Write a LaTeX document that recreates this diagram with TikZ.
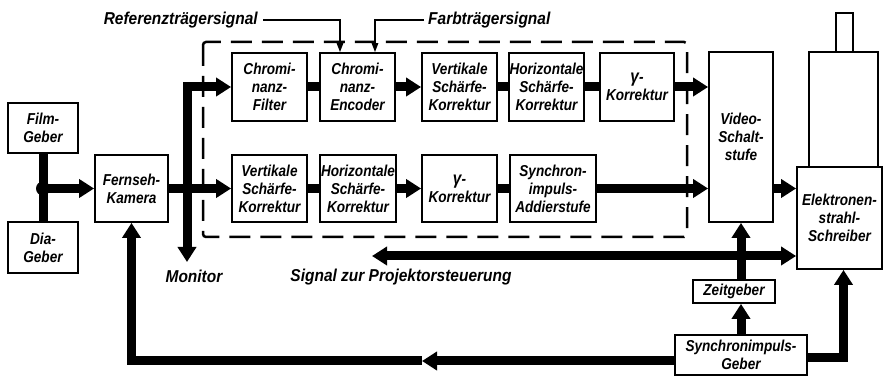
\documentclass[tikz,border=0pt]{standalone}
\usepackage{fontspec}
\newfontfamily\df{Liberation Sans}[FakeStretch=0.9]
\newfontfamily\dfn{Liberation Sans}[FakeStretch=0.86]
\usetikzlibrary{arrows.meta}
\begin{document}
\begin{tikzpicture}[x=1pt,y=-1pt,
  blk/.style={draw, line width=1.8pt, inner sep=0pt, align=center,
    font=\dfn\bfseries\itshape\fontsize{15.8}{18}\selectfont},
  lbl/.style={inner sep=0pt, font=\df\bfseries\itshape\fontsize{17.2}{20}\selectfont},
  fat/.style={line width=9pt},
  big/.style={-{Triangle[length=15pt,width=18pt]}},
  bigboth/.style={{Triangle[length=15pt,width=18pt]}-{Triangle[length=15pt,width=18pt]}},
  thn/.style={line width=1.3pt,-{Triangle[length=9pt,width=6.5pt]}},
  dsh/.style={line width=2.5pt, dash pattern=on 21pt off 10pt, rounded corners=3pt}]
\useasboundingbox (0,0) rectangle (884,387);

% dashed frame
\draw[dsh] (203,42) rectangle (687,237);

% source boxes
\node[blk, minimum width=70pt, minimum height=50pt] (film) at (43,128) {Film-\\Geber};
\node[blk, minimum width=70pt, minimum height=51pt] (dia) at (43,247.5) {Dia-\\Geber};
\node[blk, minimum width=73pt, minimum height=67pt] (kamera) at (131.5,188.5) {Fernseh-\\Kamera};

% row 1
\node[blk, minimum width=75pt, minimum height=68pt] (cf) at (269.5,87) {Chromi-\\nanz-\\Filter};
\node[blk, minimum width=75pt, minimum height=68pt] (ce) at (357.5,87) {Chromi-\\nanz-\\Encoder};
\node[blk, minimum width=75pt, minimum height=68pt] (vs1) at (459.5,87) {Vertikale\\Schärfe-\\Korrektur};
\node[blk, minimum width=75pt, minimum height=68pt] (hs1) at (546.5,87) {Horizontale\\Schärfe-\\Korrektur};
\node[blk, minimum width=74pt, minimum height=68pt] (gk1) at (637,87) {{\fontsize{18}{18}\selectfont γ}-\\Korrektur};

% row 2
\node[blk, minimum width=75pt, minimum height=67pt] (vs2) at (269.5,188.5) {Vertikale\\Schärfe-\\Korrektur};
\node[blk, minimum width=76pt, minimum height=67pt] (hs2) at (358,188.5) {Horizontale\\Schärfe-\\Korrektur};
\node[blk, minimum width=75pt, minimum height=67pt] (gk2) at (459.5,188.5) {{\fontsize{18}{18}\selectfont γ}-\\Korrektur};
\node[blk, minimum width=86pt, minimum height=67pt] (sy) at (553,188.5) {Synchron-\\impuls-\\Addierstufe};

% right side
\node[blk, minimum width=64pt, minimum height=170pt] (video) at (741,137) {Video-\\Schalt-\\stufe};
\draw[line width=1.8pt] (809,52) rectangle (878,167);
\draw[line width=1.8pt] (836,13) rectangle (853,52);
\node[blk, minimum width=85pt, minimum height=102pt, fill=white] (schr) at (839.5,218) {Elektronen-\\strahl-\\Schreiber};
\node[blk, minimum width=82pt, minimum height=23pt] (zeit) at (734,291.5) {Zeitgeber};
\node[blk, minimum width=132pt, minimum height=40pt] (sg) at (741,355) {Synchronimpuls-\\Geber};

% labels
\node[lbl, anchor=east] (ref) at (258,20) {Referenzträgersignal};
\node[lbl, anchor=west] (farb) at (428,20) {Farbträgersignal};
\node[lbl] (mon) at (194,276) {Monitor};
\node[lbl] (proj) at (401,277) {Signal zur Projektorsteuerung};

% thin signal arrows
\draw[thn] ([xshift=5pt]ref.east) -| ([xshift=-17.5pt]ce.north);
\draw[thn] ([xshift=-4pt]farb.west) -| ([xshift=17.5pt]ce.north);

% film/dia junction
\coordinate (fd) at (43,188.5);
\draw[fat] (film.south) -- (dia.north);
\fill (fd) circle (7pt);
\draw[fat,big] (fd) -- (kamera.west);

% camera output distribution
\coordinate (montip) at (187,262);
\draw[fat,big] (kamera.east) -- (vs2.west);
\draw[fat,bigboth] (cf.west) -| (montip);

% row 1 links
\draw[fat] (cf.east) -- (ce.west);
\draw[fat,big] (ce.east) -- (vs1.west);
\draw[fat] (vs1.east) -- (hs1.west);
\draw[fat] (hs1.east) -- (gk1.west);
\draw[fat,big] (gk1.east) -- (gk1.east -| video.west);

% row 2 links
\draw[fat] (vs2.east) -- (hs2.west);
\draw[fat,big] (hs2.east) -- (gk2.west);
\draw[fat] (gk2.east) -- (sy.west);
\draw[fat,big] (sy.east) -- (sy.east -| video.west);

% video to writer
\draw[fat,big] (video.east |- sy.east) -- (schr.west |- sy.east);

% projector control line
\coordinate (ptip) at (372,256);
\draw[fat,bigboth] (ptip) -- (ptip -| schr.west);

% timing chain
\draw[fat,big] (zeit.north -| video.south) -- (video.south);
\draw[fat,big] (sg.north) -- (sg.north |- zeit.south);
\draw[fat,big] ([yshift=-3pt]sg.east) -| ([xshift=4pt]schr.south);
\coordinate (mid) at (422,361);
\draw[fat,big] ([yshift=-6pt]sg.west) -- (mid);
\draw[fat,big] (mid) -| (kamera.south);
\end{tikzpicture}
\end{document}
